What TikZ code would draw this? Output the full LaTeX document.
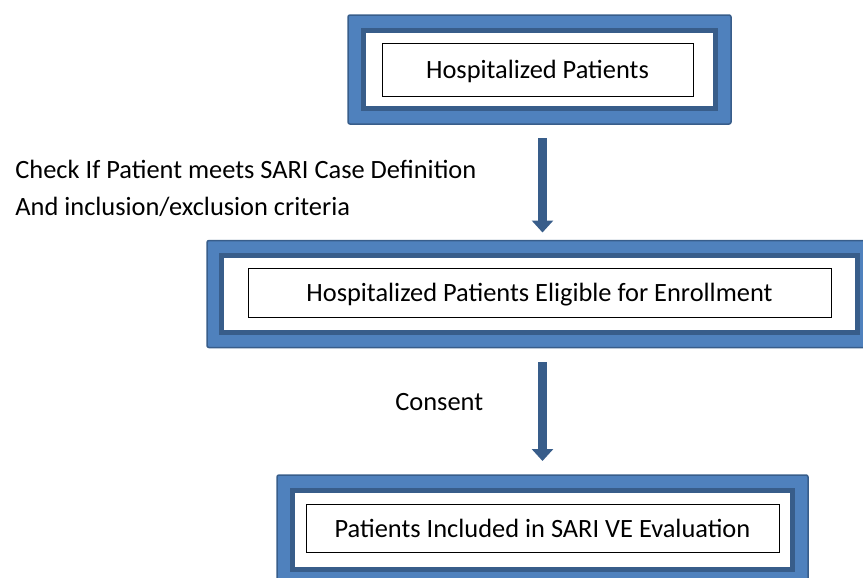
\documentclass[tikz,border=0pt]{standalone}
\usepackage{fontspec}
\setmainfont{Carlito}
\usetikzlibrary{arrows.meta,positioning}
\definecolor{frameblue}{HTML}{4F81BD}
\definecolor{framedark}{HTML}{385D8A}
\begin{document}
\begin{tikzpicture}[x=0.5pt,y=-0.5pt,
        outerframe/.style={draw=framedark,line width=0.75pt,fill=frameblue,rounded corners=1pt,inner sep=0pt,outer sep=0pt},
        innerframe/.style={draw=framedark,line width=2.5pt,fill=white,inner sep=0pt,outer sep=0pt},
        textbox/.style={draw=black,line width=0.5pt,fill=white,inner sep=0pt,text depth=0pt,font=\fontsize{13.2}{16}\selectfont},
        label/.style={anchor=base west,inner sep=0pt,font=\fontsize{13.2}{16}\selectfont},
        flow/.style={draw=framedark,line width=4.5pt,-{Triangle[width=10.5pt,length=6pt]}}]
        \useasboundingbox (0,0) rectangle (863,578);
        %% first box
        \node[outerframe,minimum width=191.5pt,minimum height=54.5pt] (hospframe) at (539.5,69.5) {};
        \node[innerframe,minimum width=176pt,minimum height=39pt] (hospinner) at (539.5,69.5) {};
        \node[textbox,minimum width=155.5pt,minimum height=26.5pt] (hosp) at (537.5,69.5) {Hospitalized Patients};
        %% second box
        \node[outerframe,minimum width=333pt,minimum height=53.5pt] (eligframe) at (540,294) {};
        \node[innerframe,minimum width=318pt,minimum height=38.5pt] (eliginner) at (539.5,294) {};
        \node[textbox,minimum width=291.5pt,minimum height=24.5pt] (elig) at (539.5,292.5) {Hospitalized Patients Eligible for Enrollment};
        %% third box
        \node[outerframe,minimum width=265.5pt,minimum height=55pt] (inclframe) at (542.5,530) {};
        \node[innerframe,minimum width=250pt,minimum height=39.5pt] (inclinner) at (542.5,530) {};
        \node[textbox,minimum width=236.5pt,minimum height=24pt] (incl) at (542.5,528) {Patients Included in SARI VE Evaluation};
        %% arrows
        \draw[flow] ([xshift=1.5pt,yshift=-7pt]hospframe.south) -- ([xshift=1.25pt,yshift=4pt]eligframe.north);
        \draw[flow] ([xshift=1.25pt,yshift=-7.25pt]eligframe.south) -- ([yshift=7pt]inclframe.north);
        %% step labels
        \node[label] (check) at (15,178) {Check If Patient meets SARI Case Definition};
        \node[label] (criteria) at (15,215) {And inclusion/exclusion criteria};
        \node[label] (consent) at (395,410) {Consent};
\end{tikzpicture}
\end{document}
